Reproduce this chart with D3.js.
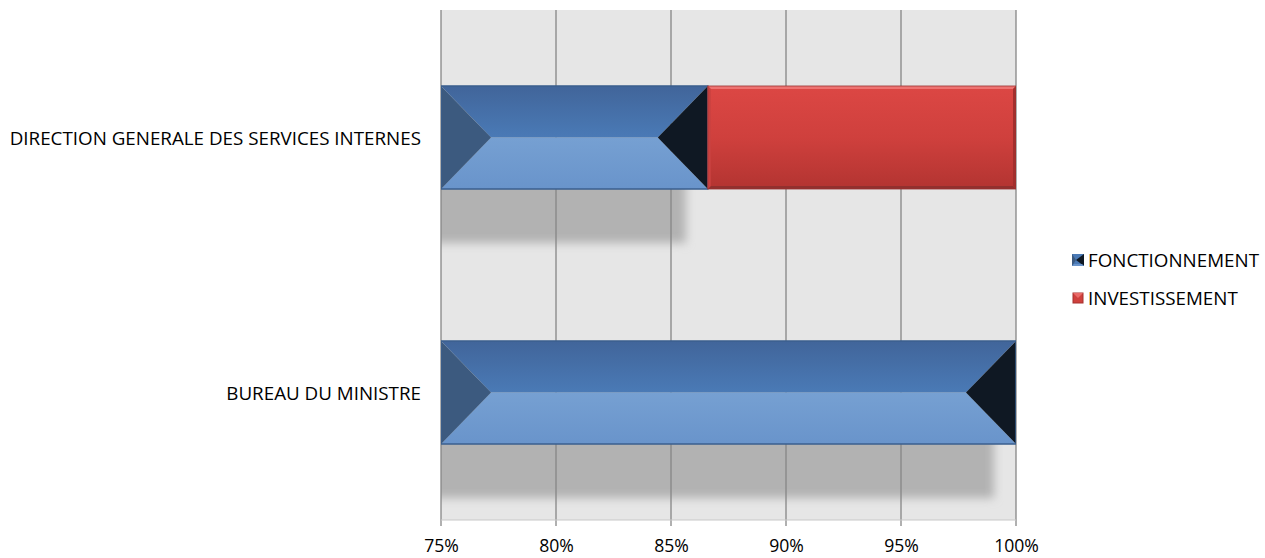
<!DOCTYPE html>
<html>
<head>
<meta charset="utf-8">
<script src="https://cdn.jsdelivr.net/npm/d3@7"></script>
<style>
  html, body { margin: 0; padding: 0; background: #ffffff; }
  svg text { font-family: "Open Sans", "Liberation Sans", sans-serif; fill: #000; }
</style>
</head>
<body>
<svg id="chart" width="1265" height="558"></svg>
<script>
// Budget execution shares by service (100% stacked, axis cut at 75%)
const categories = ["DIRECTION GENERALE DES SERVICES INTERNES", "BUREAU DU MINISTRE"];
const fonctionnement = [0.866, 1.0];
const investissement = [0.134, 0.0];
const seriesNames = ["FONCTIONNEMENT", "INVESTISSEMENT"];
const tickValues = [0.75, 0.80, 0.85, 0.90, 0.95, 1.00];

const svg = d3.select("#chart");
const plot = { left: 441, right: 1016, top: 10, bottom: 520 };
const FONT = "18.8px";

const x = d3.scaleLinear().domain([0.75, 1]).range([plot.left, plot.right]);
const y = d3.scaleBand().domain(categories)
  .range([plot.top, plot.bottom]).paddingInner(0.596).paddingOuter(0.298);

const defs = svg.append("defs");
defs.append("clipPath").attr("id", "plotClip").append("rect")
  .attr("x", plot.left).attr("y", plot.top)
  .attr("width", plot.right - plot.left).attr("height", plot.bottom - plot.top);
defs.append("filter").attr("id", "soft").attr("x", "-20%").attr("y", "-40%")
  .attr("width", "140%").attr("height", "180%")
  .append("feGaussianBlur").attr("stdDeviation", 5);

function vGrad(id, stops) {
  const g = defs.append("linearGradient").attr("id", id)
    .attr("x1", 0).attr("y1", 0).attr("x2", 0).attr("y2", 1);
  stops.forEach(([o, c]) => g.append("stop").attr("offset", o).attr("stop-color", c));
}
vGrad("blueTop", [[0, "#41659a"], [1, "#4a7ab6"]]);
vGrad("blueBot", [[0, "#76a0d2"], [1, "#6994cb"]]);
vGrad("redFace", [[0, "#dc4744"], [0.5, "#cf403d"], [1, "#b33431"]]);

// plot background
svg.append("rect")
  .attr("x", plot.left).attr("y", plot.top)
  .attr("width", plot.right - plot.left).attr("height", plot.bottom - plot.top)
  .attr("fill", "#e6e6e6");

// stacked segments
const rows = categories.map((c, i) => {
  const f1 = fonctionnement[i];
  return { cat: c, f: [0, f1], inv: [f1, f1 + investissement[i]] };
});

// drop shadows under the blue segments
const shadowG = svg.append("g").attr("clip-path", "url(#plotClip)");
rows.forEach(r => {
  const x0 = x(Math.max(0.75, r.f[0])) - 20, x1 = x(r.f[1]);
  const y0 = y(r.cat), bh = y.bandwidth();
  shadowG.append("rect")
    .attr("x", x0).attr("y", y0 + bh * 0.4)
    .attr("width", Math.max(0, x1 - 22 - x0)).attr("height", bh * 0.6 + 54)
    .attr("fill", "#b2b2b2").attr("filter", "url(#soft)");
});

// vertical gridlines and tick marks
svg.append("g").selectAll("line").data(tickValues).join("line")
  .attr("x1", d => x(d)).attr("x2", d => x(d))
  .attr("y1", plot.top).attr("y2", plot.bottom + 6)
  .attr("stroke", "#868686").attr("stroke-width", 1.3);
svg.append("line")
  .attr("x1", plot.left).attr("x2", plot.right)
  .attr("y1", plot.bottom).attr("y2", plot.bottom)
  .attr("stroke", "#c8c8c8").attr("stroke-width", 1);

// x axis labels
const xAxis = d3.axisBottom(x).tickValues(tickValues).tickSize(0).tickPadding(0)
  .tickFormat(d3.format(".0%"));
const ax = svg.append("g").attr("transform", `translate(0,${plot.bottom + 26})`).call(xAxis);
ax.select(".domain").remove();
ax.selectAll("text").attr("dy", "0.35em").style("font-size", "17.6px")
  .style("font-family", "'Open Sans', 'Liberation Sans', sans-serif").attr("fill", "#000");

// bars
const barsG = svg.append("g").attr("clip-path", "url(#plotClip)");
rows.forEach(r => {
  const y0 = y(r.cat), y1 = y0 + y.bandwidth(), ym = (y0 + y1) / 2;
  // FONCTIONNEMENT: bevelled blue segment
  const x0 = x(Math.max(0.75, r.f[0])), x1 = x(r.f[1]);
  if (x1 > x0) {
    const b = Math.min(50, (x1 - x0) / 2);
    const g = barsG.append("g");
    g.append("polygon").attr("points", [[x0, y0], [x1, y0], [x1 - b, ym], [x0 + b, ym]].join(" "))
      .attr("fill", "url(#blueTop)");
    g.append("polygon").attr("points", [[x0 + b, ym], [x1 - b, ym], [x1, y1], [x0, y1]].join(" "))
      .attr("fill", "url(#blueBot)");
    g.append("polygon").attr("points", [[x0, y0], [x0 + b, ym], [x0, y1]].join(" "))
      .attr("fill", "#3c5a7f");
    g.append("polygon").attr("points", [[x1, y0], [x1, y1], [x1 - b, ym]].join(" "))
      .attr("fill", "#0f1823");
    g.append("rect").attr("x", x0).attr("y", y0).attr("width", x1 - x0).attr("height", y1 - y0)
      .attr("fill", "none").attr("stroke", "#3a5f8e").attr("stroke-width", 1.5);
  }
  // INVESTISSEMENT: red segment with soft bevel edges
  const r0 = x(Math.max(0.75, r.inv[0])), r1 = x(r.inv[1]);
  if (r1 > r0 + 0.5) {
    const g = barsG.append("g");
    g.append("rect").attr("x", r0).attr("y", y0).attr("width", r1 - r0).attr("height", y1 - y0)
      .attr("fill", "url(#redFace)");
    const e = 3;
    g.append("polygon").attr("points", [[r0, y0], [r1, y0], [r1 - e, y0 + e], [r0 + e, y0 + e]].join(" "))
      .attr("fill", "#ee7371");
    g.append("polygon").attr("points", [[r0, y1], [r1, y1], [r1 - e, y1 - e], [r0 + e, y1 - e]].join(" "))
      .attr("fill", "#92302e");
    g.append("polygon").attr("points", [[r0, y0], [r0 + e, y0 + e], [r0 + e, y1 - e], [r0, y1]].join(" "))
      .attr("fill", "#c94240");
    g.append("polygon").attr("points", [[r1, y0], [r1 - e, y0 + e], [r1 - e, y1 - e], [r1, y1]].join(" "))
      .attr("fill", "#a22f2d");
    g.append("rect").attr("x", r0).attr("y", y0).attr("width", r1 - r0).attr("height", y1 - y0)
      .attr("fill", "none").attr("stroke", "#9c3331").attr("stroke-width", 0.8);
  }
});

// category labels
svg.append("g").selectAll("text").data(categories).join("text")
  .attr("x", 421).attr("y", d => y(d) + y.bandwidth() / 2)
  .attr("text-anchor", "end").attr("dominant-baseline", "central")
  .style("font-size", FONT)
  .text(d => d);

// legend
const lg = svg.append("g");
const ly = [260, 298];
seriesNames.forEach((name, i) => {
  const sx = 1072, sy = ly[i] - 6, s = 12;
  if (i === 0) {
    lg.append("rect").attr("x", sx).attr("y", sy).attr("width", s).attr("height", s).attr("fill", "#4a7ab6");
    lg.append("polygon").attr("points", [[sx, sy], [sx + 4, sy + s / 2], [sx, sy + s]].join(" ")).attr("fill", "#3c5a7f");
    lg.append("polygon").attr("points", [[sx + s, sy], [sx + s, sy + s], [sx + 4, sy + s / 2]].join(" ")).attr("fill", "#0f1823");
    lg.append("polygon").attr("points", [[sx, sy + s], [sx + s, sy + s], [sx + s - 2, sy + s - 2], [sx + 2, sy + s - 2]].join(" ")).attr("fill", "#6994cb");
  } else {
    lg.append("rect").attr("x", sx + 1).attr("y", sy + 1).attr("width", s - 2).attr("height", s - 2).attr("fill", "#cf403d")
      .attr("stroke", "#a5302e").attr("stroke-width", 1);
    lg.append("polygon").attr("points", [[sx + 1, sy + 1], [sx + s - 1, sy + 1], [sx + s / 2, sy + s / 2]].join(" ")).attr("fill", "#ea6a68");
  }
  lg.append("text").attr("x", 1088).attr("y", ly[i])
    .attr("dominant-baseline", "central").style("font-size", FONT).text(name);
});
</script>
</body>
</html>
